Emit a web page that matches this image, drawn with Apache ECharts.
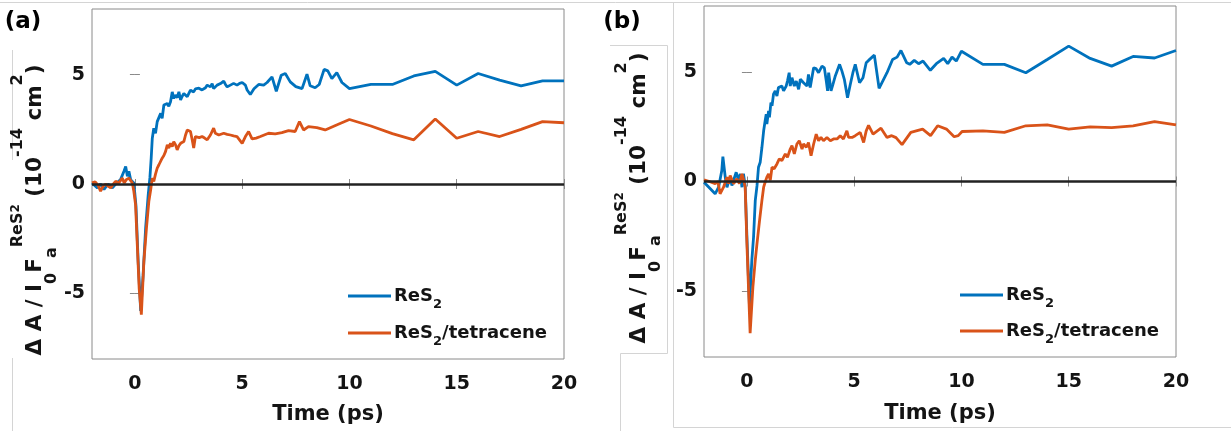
<!DOCTYPE html>
<html>
<head>
<meta charset="utf-8">
<script src="https://cdn.jsdelivr.net/npm/echarts@6/dist/echarts.min.js"></script>
<style>
html,body{margin:0;padding:0;background:#fff;}
#chart{width:1231px;height:431px;}
</style>
</head>
<body>
<div id="chart"></div>
<script>
// ---------- data ----------
const xTicks = [0, 5, 10, 15, 20];
const yTicks = [-5, 0, 5];
const seriesNames = ['ReS2', 'ReS2/tetracene'];

// Panel (a) – ReS2
const aBlueT = [-2.0,-1.75,-1.6,-1.44,-1.25,-1.05,-0.9,-0.82,-0.67,-0.51,-0.43,-0.35,-0.28,-0.2,-0.05,0.05,0.15,0.27,0.38,0.5,0.62,0.7,0.76,0.81,0.88,0.96,1.04,1.12,1.2,1.27,1.35,1.43,1.51,1.58,1.66,1.74,1.81,1.89,1.97,2.05,2.13,2.2,2.28,2.36,2.44,2.52,2.59,2.67,2.74,2.82,2.9,2.98,3.06,3.13,3.21,3.29,3.37,3.45,3.52,3.6,3.67,3.75,3.83,3.91,3.99,4.07,4.14,4.22,4.3,4.38,4.45,4.6,4.76,4.88,5.0,5.15,5.23,5.38,5.55,5.77,6.0,6.16,6.39,6.59,6.82,7.01,7.24,7.5,7.79,8.02,8.17,8.4,8.59,8.82,8.99,9.18,9.41,9.65,10,11,12,13,14,15,16,17,18,19,20];
const aBlueV = [0.05,-0.18,0.0,-0.25,0.0,-0.18,0.0,0.05,0.2,0.58,0.8,0.35,0.58,0.2,0.05,-1.0,-3.5,-5.8,-4.2,-2.0,-0.5,0.3,1.2,2.09,2.55,2.32,2.85,2.77,3.23,3.0,3.61,3.53,3.68,3.55,3.76,4.21,3.91,4.06,3.95,4.21,3.84,4.0,4.14,4.05,3.99,4.15,4.29,4.2,4.21,4.35,4.44,4.38,4.36,4.3,4.21,4.4,4.52,4.45,4.44,4.59,4.36,4.45,4.52,4.5,4.59,4.65,4.7,4.55,4.44,4.5,4.52,4.6,4.52,4.6,4.64,4.52,4.3,4.09,4.35,4.55,4.52,4.64,4.9,4.24,4.97,5.05,4.67,4.45,4.36,5.02,4.49,4.4,4.55,5.24,5.17,4.82,5.09,4.64,4.36,4.55,4.55,4.94,5.15,4.52,5.05,4.75,4.49,4.71,4.71];

// Panel (a) – ReS2/tetracene
const aOrT = [-2.0,-1.85,-1.72,-1.6,-1.48,-1.36,-1.25,-1.13,-1.0,-0.9,-0.75,-0.59,-0.5,-0.4,-0.28,-0.12,-0.05,0.03,0.11,0.2,0.3,0.42,0.54,0.65,0.73,0.81,0.88,0.96,1.04,1.12,1.2,1.27,1.35,1.43,1.51,1.58,1.66,1.74,1.81,1.89,1.97,2.05,2.13,2.2,2.28,2.36,2.44,2.52,2.59,2.67,2.74,2.82,2.9,3.0,3.13,3.25,3.37,3.52,3.67,3.75,3.91,4.0,4.14,4.3,4.45,4.6,4.76,5.0,5.15,5.3,5.46,5.65,5.85,6.23,6.54,6.85,7.16,7.47,7.67,7.86,8.09,8.48,8.87,9.4,10,11,12,13,14,15,16,17,18,19,20];
const aOrV = [0.05,0.1,-0.05,-0.33,-0.1,0.0,-0.1,-0.18,0.0,0.12,0.05,0.27,0.05,0.2,0.27,0.05,-0.33,-0.94,-2.75,-4.8,-5.97,-3.51,-2.0,-0.79,-0.3,0.27,0.12,0.45,0.73,0.88,0.85,1.18,1.3,1.49,1.79,1.64,1.86,1.71,1.94,1.8,1.56,1.75,1.86,1.9,1.94,2.24,2.47,2.45,2.4,2.02,1.64,2.17,2.09,2.12,2.17,2.1,2.02,2.24,2.55,2.32,2.24,2.28,2.32,2.27,2.24,2.2,2.17,1.86,2.17,2.4,2.06,2.1,2.17,2.32,2.29,2.35,2.44,2.4,2.85,2.47,2.62,2.58,2.47,2.7,2.95,2.65,2.3,2.02,2.97,2.09,2.4,2.17,2.5,2.85,2.8];

// Panel (b) – ReS2
const bBlueT = [-2.0,-1.48,-1.32,-1.17,-1.12,-1.01,-0.93,-0.78,-0.7,-0.5,-0.39,-0.31,-0.23,-0.16,-0.08,0.0,0.12,0.23,0.31,0.39,0.47,0.54,0.62,0.7,0.78,0.85,0.9,0.93,1.01,1.05,1.12,1.17,1.24,1.32,1.4,1.47,1.55,1.63,1.71,1.83,1.89,1.97,2.02,2.1,2.21,2.3,2.41,2.49,2.64,2.8,2.87,2.95,3.11,3.22,3.34,3.5,3.61,3.7,3.76,3.81,3.92,4.01,4.12,4.32,4.43,4.54,4.69,4.82,4.94,5.05,5.25,5.41,5.56,5.67,5.94,6.16,6.53,6.79,7.0,7.18,7.45,7.59,7.8,8.0,8.21,8.55,8.83,9.17,9.36,9.56,9.76,10,11,12,13,14,15,16,17,18,19,20];
const bBlueV = [-0.03,-0.56,-0.26,0.5,1.13,0.2,-0.26,0.2,-0.18,0.42,0.05,0.35,-0.26,0.35,-0.2,-2.5,-5.7,-3.58,-2.53,-0.86,-0.2,0.65,0.88,1.56,2.31,2.77,3.07,2.62,3.22,2.92,3.6,3.45,3.98,4.13,3.9,4.28,4.2,4.35,4.13,4.35,4.58,4.96,4.35,4.73,4.35,4.58,4.2,4.66,4.5,4.35,4.88,4.28,5.18,5.15,4.96,5.26,5.18,4.58,4.13,4.96,4.13,4.43,4.81,5.34,5.03,4.66,3.82,4.43,4.96,5.34,4.5,4.73,5.41,5.52,5.76,4.25,4.96,5.56,5.67,5.97,5.41,5.34,5.52,5.37,5.49,5.07,5.37,5.61,5.37,5.67,5.49,5.94,5.34,5.34,4.96,5.56,6.17,5.61,5.26,5.7,5.63,5.97];

// Panel (b) – ReS2/tetracene
const bOrT = [-2.0,-1.75,-1.48,-1.35,-1.25,-1.09,-0.93,-0.85,-0.78,-0.62,-0.47,-0.35,-0.23,-0.16,-0.08,0.0,0.15,0.28,0.39,0.47,0.59,0.7,0.78,0.86,0.93,1.01,1.09,1.17,1.27,1.4,1.51,1.63,1.79,1.89,2.02,2.1,2.21,2.33,2.44,2.57,2.64,2.77,2.87,2.99,3.11,3.23,3.34,3.45,3.57,3.73,3.89,4.04,4.2,4.35,4.5,4.66,4.74,4.9,5.05,5.28,5.44,5.56,5.67,5.88,6.25,6.53,6.75,6.95,7.23,7.64,8.19,8.56,8.89,9.3,9.66,9.85,10.03,11,12,13,14,15,16,17,18,19,20];
const bOrV = [0.08,0.0,-0.1,0.0,-0.56,-0.26,0.2,-0.1,0.27,-0.1,0.12,-0.1,0.35,0.1,-0.26,-2.83,-6.91,-4.79,-3.58,-2.83,-1.77,-0.86,-0.26,0.0,0.2,0.35,0.05,0.65,0.58,0.8,1.03,0.95,1.26,1.1,1.48,1.63,1.26,1.71,1.86,1.48,1.71,1.56,1.78,1.18,1.71,2.16,1.86,2.01,1.86,2.01,1.86,1.94,1.94,2.09,1.94,2.31,2.01,2.01,2.09,2.24,1.78,2.31,2.56,2.16,2.43,2.01,2.09,2.0,1.68,2.24,2.39,2.09,2.54,2.39,2.04,2.09,2.28,2.31,2.24,2.54,2.58,2.39,2.49,2.46,2.54,2.73,2.58];

// ---------- styling ----------
const FONT = 'DejaVu Sans';
const BLUE = '#0072BD';
const ORANGE = '#D95319';
const TXT = '#141414';
const AXC = '#8a8a8a';
const LW = 2.8;

function zip(t, v) { return t.map((x, i) => [x, v[i]]); }

const grids = [
  { left: 92, top: 9, width: 472, height: 350 },
  { left: 704, top: 6, width: 472, height: 351 }
];

const xAxes = [], yAxes = [], series = [], legends = [];
grids.forEach((g, gi) => {
  xAxes.push({
    gridIndex: gi, type: 'value', min: -2, max: 20, position: 'bottom',
    axisLine: { show: false }, splitLine: { show: false },
    axisTick: { inside: true, length: 5, customValues: xTicks, lineStyle: { color: AXC } },
    axisLabel: { customValues: xTicks, margin: 16, fontSize: 19, fontWeight: 'bold', color: TXT, fontFamily: FONT },
    name: 'Time (ps)', nameLocation: 'middle', nameGap: gi === 0 ? 45 : 46,
    nameTextStyle: { fontSize: 21, fontWeight: 'bold', color: TXT, fontFamily: FONT }
  });
  xAxes.push({
    gridIndex: gi, type: 'value', min: -2, max: 20, position: 'top',
    axisLine: { show: false }, splitLine: { show: false },
    axisTick: { inside: true, length: 5, customValues: xTicks, lineStyle: { color: AXC } },
    axisLabel: { show: false }
  });
  yAxes.push({
    gridIndex: gi, type: 'value', min: -8, max: 8, position: 'left',
    axisLine: { show: false }, splitLine: { show: false },
    axisTick: { inside: true, length: 5, customValues: yTicks, lineStyle: { color: AXC } },
    axisLabel: { customValues: yTicks, margin: 7, fontSize: 19, fontWeight: 'bold', color: TXT, fontFamily: FONT }
  });
  yAxes.push({
    gridIndex: gi, type: 'value', min: -8, max: 8, position: 'right',
    axisLine: { show: false }, splitLine: { show: false },
    axisTick: { inside: true, length: 5, customValues: yTicks, lineStyle: { color: AXC } },
    axisLabel: { show: false }
  });
});

const panels = [
  { blue: zip(aBlueT, aBlueV), orange: zip(aOrT, aOrV) },
  { blue: zip(bBlueT, bBlueV), orange: zip(bOrT, bOrV) }
];
panels.forEach((p, gi) => {
  series.push({
    name: seriesNames[0], type: 'line', xAxisIndex: gi * 2, yAxisIndex: gi * 2,
    data: p.blue, symbol: 'none', lineStyle: { color: BLUE, width: LW }, itemStyle: { color: BLUE },
    z: 3, animation: false
  });
  series.push({
    name: seriesNames[1], type: 'line', xAxisIndex: gi * 2, yAxisIndex: gi * 2,
    data: p.orange, symbol: 'none', lineStyle: { color: ORANGE, width: LW }, itemStyle: { color: ORANGE },
    z: 4, animation: false,
    markLine: {
      silent: true, symbol: 'none', label: { show: false }, animation: false,
      lineStyle: { color: '#222', width: 2.6, type: 'solid' },
      data: [{ yAxis: 0 }]
    }
  });
});

const legRich = {
  b: { fontSize: 18, fontWeight: 'bold', fontFamily: FONT, color: TXT, lineHeight: 30, verticalAlign: 'middle' },
  s: { fontSize: 13, fontWeight: 'bold', fontFamily: FONT, color: TXT, lineHeight: 12, verticalAlign: 'bottom' }
};
function legFmt(name) {
  return name === 'ReS2' ? '{b|ReS}{s|2}' : '{b|ReS}{s|2}{b|/tetracene}';
}
const legendPos = [
  [{ left: 348, top: 287 }, { left: 348, top: 324 }],
  [{ left: 960, top: 286 }, { left: 960, top: 322 }]
];
legendPos.forEach(pp => {
  pp.forEach((pos, k) => {
    legends.push({
      left: pos.left, top: pos.top, orient: 'vertical', padding: 0,
      itemWidth: 43, itemHeight: 3, selectedMode: false,
      data: [{ name: seriesNames[k], icon: 'rect' }], formatter: legFmt,
      textStyle: { rich: legRich, padding: [0, 0, 0, -2] }
    });
  });
});

const yRich = {
  m: { fontSize: 21.5, fontWeight: 'bold', fontFamily: FONT, color: TXT, lineHeight: 50, verticalAlign: 'middle' },
  sub: { fontSize: 16, fontWeight: 'bold', fontFamily: FONT, color: TXT, lineHeight: 24, verticalAlign: 'bottom' },
  sup: { fontSize: 16, fontWeight: 'bold', fontFamily: FONT, color: TXT, lineHeight: 22, verticalAlign: 'top' },
  sup2: { fontSize: 16, fontWeight: 'bold', fontFamily: FONT, color: TXT, lineHeight: 16, verticalAlign: 'top' },
  sup2s: { fontSize: 12, fontWeight: 'bold', fontFamily: FONT, color: TXT, lineHeight: 36, verticalAlign: 'top' }
};
const yLabel = '{m|Δ A / I}{sub|0}{m|F}{sub|a}{sup2|ReS}{sup2s|2}{m| (10}{sup|-14}{m| cm}{sup|2}{m|)}';

function yLabelEl(x, y) {
  return {
    type: 'text', x: x, y: y, rotation: Math.PI / 2, silent: true,
    style: { text: yLabel, rich: yRich, align: 'center', verticalAlign: 'middle', fill: TXT,
             font: 'bold 21.5px "DejaVu Sans"' }
  };
}

const frameC = '#d4d4d4';
const graphic = [
  { type: 'line', silent: true, shape: { x1: 0, y1: 2.5, x2: 1231, y2: 2.5 }, style: { stroke: frameC, lineWidth: 1 } },
  { type: 'line', silent: true, shape: { x1: 12.5, y1: 50, x2: 12.5, y2: 160 }, style: { stroke: frameC, lineWidth: 1 } },
  { type: 'line', silent: true, shape: { x1: 12.5, y1: 358, x2: 12.5, y2: 431 }, style: { stroke: frameC, lineWidth: 1 } },
  { type: 'rect', silent: true, shape: { x: 673.5, y: 2.5, width: 570, height: 425 }, style: { stroke: frameC, fill: null, lineWidth: 1 } },
  { type: 'polyline', silent: true, shape: { points: [[620.5, 431], [620.5, 353.5], [667.5, 353.5], [667.5, 45.5], [610, 45.5]] }, style: { stroke: frameC, fill: null, lineWidth: 1 } },
  yLabelEl(35, 210),
  yLabelEl(639, 198),
  { type: 'text', x: 23, y: 22, silent: true, style: { text: '(a)', font: 'bold 23px "DejaVu Sans"', fill: '#000', align: 'center', verticalAlign: 'middle' } },
  { type: 'text', x: 622, y: 22, silent: true, style: { text: '(b)', font: 'bold 23px "DejaVu Sans"', fill: '#000', align: 'center', verticalAlign: 'middle' } }
];

const chart = echarts.init(document.getElementById('chart'), null, { renderer: 'canvas' });
chart.setOption({
  animation: false,
  backgroundColor: '#fff',
  grid: grids.map(g => Object.assign({ show: true, borderColor: AXC, borderWidth: 1, backgroundColor: 'transparent', containLabel: false }, g)),
  xAxis: xAxes,
  yAxis: yAxes,
  legend: legends,
  series: series,
  graphic: graphic
});
</script>
</body>
</html>
